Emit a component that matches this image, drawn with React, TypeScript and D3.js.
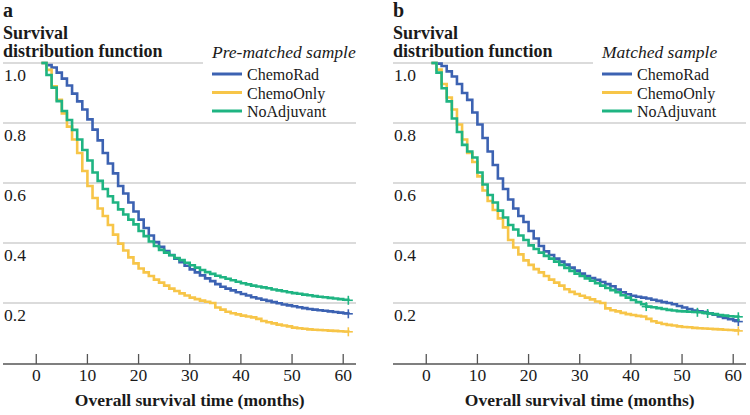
import React from 'react';
import * as d3 from 'd3';

// months since diagnosis (step points)
const months = [
  1, 2, 3, 4, 5, 6, 7, 8, 9, 10, 11, 12, 13, 14, 15, 16, 17, 18, 19, 20,
  21, 22, 23, 24, 25, 26, 27, 28, 29, 30, 31, 32, 33, 34, 35, 36, 37, 38, 39, 40,
  41, 42, 43, 44, 45, 46, 47, 48, 49, 50, 51, 52, 53, 54, 55, 56, 57, 58, 59, 60, 61,
];

// panel a: pre-matched sample
const preChemoRad = [
  1.0, 0.993, 0.985, 0.968, 0.948, 0.925, 0.898, 0.872, 0.845, 0.812,
  0.778, 0.742, 0.70, 0.665, 0.632, 0.59, 0.565, 0.535, 0.505, 0.478,
  0.45, 0.425, 0.403, 0.387, 0.373, 0.36, 0.348, 0.336, 0.324, 0.312,
  0.302, 0.292, 0.282, 0.273, 0.263, 0.254, 0.248, 0.242, 0.236, 0.23,
  0.225, 0.219, 0.215, 0.211, 0.207, 0.203, 0.199, 0.195, 0.192, 0.189,
  0.186, 0.183, 0.18, 0.178, 0.176, 0.174, 0.172, 0.17, 0.168, 0.166, 0.164,
];
const preChemoOnly = [
  1.0, 0.977, 0.922, 0.877, 0.832, 0.788, 0.745, 0.70, 0.64, 0.59,
  0.55, 0.515, 0.49, 0.46, 0.428, 0.398, 0.375, 0.352, 0.332, 0.315,
  0.302, 0.29, 0.278, 0.268, 0.258, 0.248, 0.24, 0.232, 0.225, 0.218,
  0.213, 0.208, 0.204, 0.2, 0.185, 0.178, 0.171, 0.166, 0.162, 0.158,
  0.155, 0.152, 0.147, 0.14, 0.136, 0.132, 0.128, 0.125, 0.122, 0.118,
  0.116, 0.114, 0.112, 0.111, 0.11, 0.109, 0.108, 0.107, 0.106, 0.105, 0.104,
];
const preNoAdjuvant = [
  1.0, 0.96, 0.918, 0.873, 0.84, 0.81, 0.777, 0.745, 0.71, 0.675,
  0.635, 0.607, 0.58, 0.556, 0.535, 0.512, 0.495, 0.478, 0.462, 0.44,
  0.423, 0.405, 0.39, 0.377, 0.368, 0.359, 0.35, 0.343, 0.334, 0.326,
  0.318, 0.31, 0.303, 0.297, 0.291, 0.286, 0.281, 0.276, 0.271, 0.266,
  0.262, 0.258, 0.255, 0.252, 0.249, 0.245, 0.242, 0.239, 0.236, 0.233,
  0.231, 0.228, 0.226, 0.223, 0.221, 0.219, 0.217, 0.215, 0.213, 0.211, 0.209,
];

// panel b: matched sample
const matChemoRad = [
  1.0, 0.998, 0.99, 0.972, 0.955, 0.93, 0.9, 0.877, 0.835, 0.795,
  0.75, 0.705, 0.66, 0.615, 0.58, 0.545, 0.515, 0.49, 0.47, 0.44,
  0.415, 0.39, 0.372, 0.36, 0.348, 0.338, 0.328, 0.318, 0.308, 0.298,
  0.29, 0.283, 0.277, 0.27, 0.263, 0.256, 0.245, 0.236, 0.229, 0.224,
  0.221, 0.218, 0.215, 0.211, 0.207, 0.203, 0.2, 0.196, 0.19, 0.185,
  0.18, 0.175, 0.172, 0.17, 0.166, 0.161, 0.155, 0.15, 0.146, 0.142, 0.138,
];
const matChemoOnly = [
  1.0, 0.978, 0.93, 0.885, 0.845, 0.795, 0.745, 0.70, 0.67, 0.622,
  0.575, 0.54, 0.51, 0.482, 0.452, 0.41, 0.385, 0.362, 0.342, 0.327,
  0.313, 0.302, 0.29, 0.278, 0.268, 0.258, 0.246, 0.237, 0.23, 0.224,
  0.218, 0.212, 0.205, 0.2, 0.182, 0.176, 0.172, 0.167, 0.163, 0.16,
  0.157, 0.155, 0.147, 0.139, 0.134, 0.13, 0.127, 0.125, 0.122, 0.12,
  0.119, 0.117, 0.116, 0.115, 0.114, 0.113, 0.112, 0.111, 0.11, 0.109, 0.107,
];
const matNoAdjuvant = [
  1.0, 0.968, 0.916, 0.872, 0.815, 0.77, 0.727, 0.705, 0.685, 0.635,
  0.595, 0.56, 0.535, 0.508, 0.485, 0.46, 0.445, 0.425, 0.41, 0.392,
  0.38, 0.368, 0.357, 0.348, 0.338, 0.327, 0.317, 0.307, 0.298, 0.29,
  0.282, 0.274, 0.266, 0.258, 0.25, 0.243, 0.236, 0.226, 0.218, 0.21,
  0.203, 0.196, 0.188, 0.186, 0.183, 0.18, 0.177, 0.175, 0.173, 0.172,
  0.171, 0.17, 0.169, 0.167, 0.165, 0.163, 0.16, 0.158, 0.156, 0.155, 0.154,
];

const seriesNames = ['ChemoRad', 'ChemoOnly', 'NoAdjuvant'];
const colors = ['#3c62b2', '#f7c548', '#1fb482'];
const xTicks = [0, 10, 20, 30, 40, 50, 60];
const yTicks = [0.2, 0.4, 0.6, 0.8, 1.0];
// extra censoring marks seen on the matched NoAdjuvant curve
const matNoAdjCensor = [43, 53, 55];

const FONT = '"Liberation Serif", "Times New Roman", serif';
const INK = '#1a1a1a';

const Panel = ({ ox, letter, legendTitle, series, censor }) => {
  const x = d3.scaleLinear().domain([-6.5, 62.5]).range([ox + 3, ox + 356]);
  const y = d3.scaleLinear().domain([0, 1]).range([363, 63]);
  const line = d3.line<number>()
    .x((d, i) => x(months[i]))
    .y(d => y(d))
    .curve(d3.curveStepAfter);

  const plus = (cx, cy, color, key) => (
    <g key={key} stroke={color} strokeWidth={1.6}>
      <line x1={cx - 4.5} x2={cx + 4.5} y1={cy} y2={cy} />
      <line x1={cx} x2={cx} y1={cy - 4.5} y2={cy + 4.5} />
    </g>
  );

  return (
    <g fontFamily={FONT} fill={INK}>
      <text x={ox + 3} y={17} fontSize={20} fontWeight="bold">{letter}</text>
      <text x={ox + 3} y={38.5} fontSize={18} fontWeight="bold">Survival</text>
      <text x={ox + 3} y={57} fontSize={18} fontWeight="bold">distribution function</text>

      {yTicks.map(t => (
        <g key={t}>
          <line x1={ox + 3} x2={t === 1 ? ox + 203 : ox + 356} y1={y(t)} y2={y(t)}
            stroke="#b8b8b8" strokeWidth={1.2} />
          <text x={ox + 4} y={y(t) + 17.5} fontSize={17.5}>{t.toFixed(1)}</text>
        </g>
      ))}

      <line x1={ox + 3} x2={ox + 356} y1={y(0) + 1} y2={y(0) + 1} stroke="#555" strokeWidth={1.5} />
      {xTicks.map(t => (
        <g key={t}>
          <line x1={x(t)} x2={x(t)} y1={y(0) - 9} y2={y(0) + 1} stroke="#555" strokeWidth={1.3} />
          <text x={x(t)} y={381} fontSize={17.5} textAnchor="middle">{t}</text>
        </g>
      ))}
      <text x={x(30)} y={406} fontSize={17.5} fontWeight="bold" textAnchor="middle">
        Overall survival time (months)
      </text>

      {series.map((s, i) => (
        <path key={i} d={line(s)} fill="none" stroke={colors[i]} strokeWidth={2.6} />
      ))}
      {censor.map((m, k) => {
        const idx = months.indexOf(m);
        return plus(x(m), y(series[2][idx]), colors[2], 'c' + k);
      })}
      {series.map((s, i) => plus(x(months[months.length - 1]), y(s[s.length - 1]), colors[i], 'e' + i))}

      <text x={ox + 212} y={58} fontSize={17.5} fontStyle="italic">{legendTitle}</text>
      {seriesNames.map((n, i) => (
        <g key={n}>
          <line x1={ox + 212} x2={ox + 242} y1={74 + i * 18.5} y2={74 + i * 18.5}
            stroke={colors[i]} strokeWidth={3} />
          <text x={ox + 247} y={80 + i * 18.5} fontSize={16}>{n}</text>
        </g>
      ))}
    </g>
  );
};

export default function App() {
  return (
    <svg width={750} height={415} style={{ position: 'absolute', left: 0, top: 0, background: '#fff' }}>
      <Panel ox={0} letter="a" legendTitle="Pre-matched sample"
        series={[preChemoRad, preChemoOnly, preNoAdjuvant]} censor={[]} />
      <Panel ox={390} letter="b" legendTitle="Matched sample"
        series={[matChemoRad, matChemoOnly, matNoAdjuvant]} censor={matNoAdjCensor} />
    </svg>
  );
}
